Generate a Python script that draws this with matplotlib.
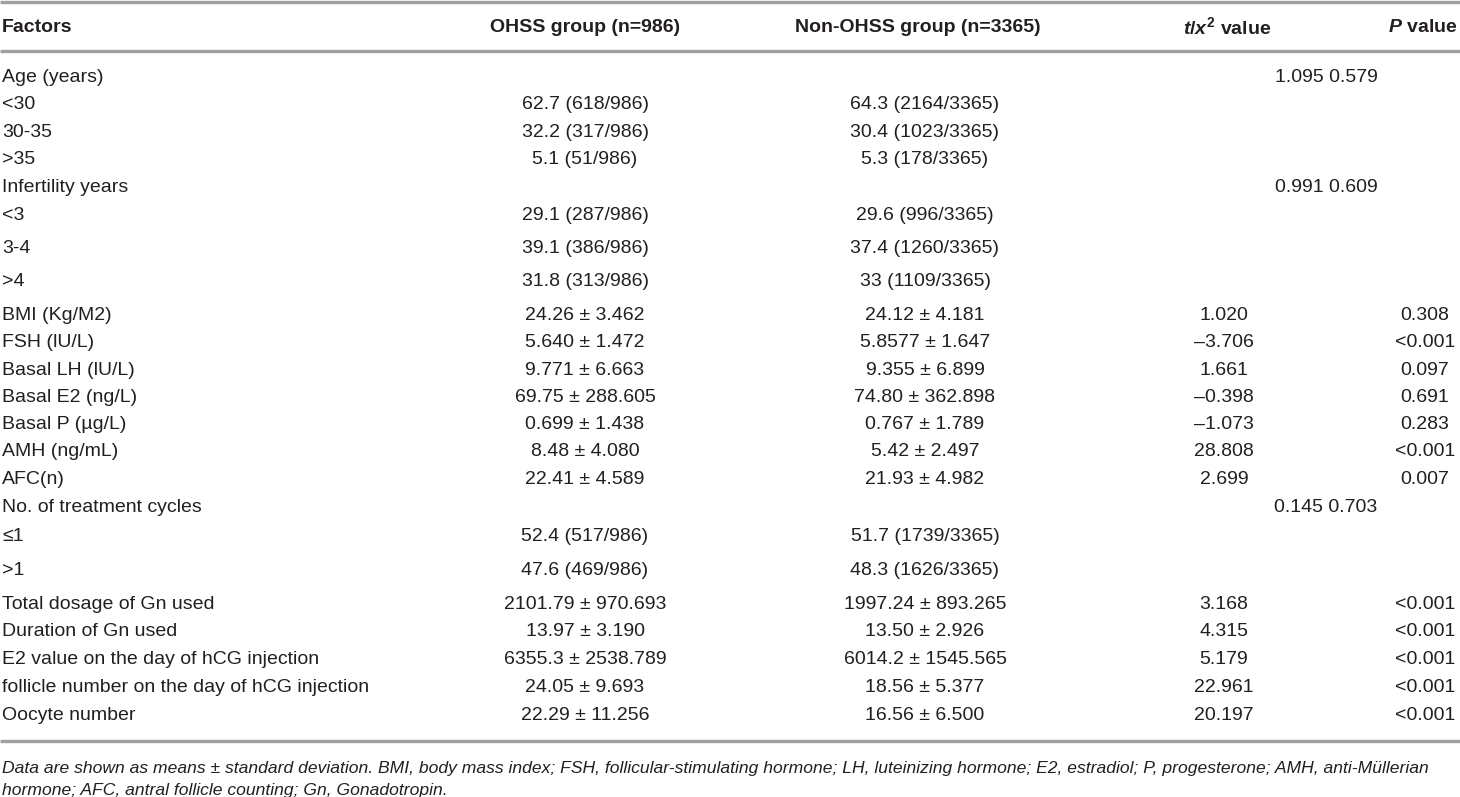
import matplotlib
matplotlib.use('Agg')
import matplotlib.pyplot as plt
import numpy as np

# Table data
factors = [
    'Age (years)', '<30', '30-35', '>35',
    'Infertility years', '<3', '3-4', '>4',
    'BMI (Kg/M2)', 'FSH (lU/L)', 'Basal LH (lU/L)', 'Basal E2 (ng/L)',
    'Basal P (\u00b5g/L)', 'AMH (ng/mL)', 'AFC(n)',
    'No. of treatment cycles', '\u22641', '>1',
    'Total dosage of Gn used', 'Duration of Gn used',
    'E2 value on the day of hCG injection',
    'follicle number on the day of hCG injection', 'Oocyte number'
]
ohss = [
    '', '62.7 (618/986)', '32.2 (317/986)', '5.1 (51/986)',
    '', '29.1 (287/986)', '39.1 (386/986)', '31.8 (313/986)',
    '24.26 \u00b1 3.462', '5.640 \u00b1 1.472', '9.771 \u00b1 6.663', '69.75 \u00b1 288.605',
    '0.699 \u00b1 1.438', '8.48 \u00b1 4.080', '22.41 \u00b1 4.589',
    '', '52.4 (517/986)', '47.6 (469/986)',
    '2101.79 \u00b1 970.693', '13.97 \u00b1 3.190',
    '6355.3 \u00b1 2538.789', '24.05 \u00b1 9.693', '22.29 \u00b1 11.256'
]
non_ohss = [
    '', '64.3 (2164/3365)', '30.4 (1023/3365)', '5.3 (178/3365)',
    '', '29.6 (996/3365)', '37.4 (1260/3365)', '33 (1109/3365)',
    '24.12 \u00b1 4.181', '5.8577 \u00b1 1.647', '9.355 \u00b1 6.899', '74.80 \u00b1 362.898',
    '0.767 \u00b1 1.789', '5.42 \u00b1 2.497', '21.93 \u00b1 4.982',
    '', '51.7 (1739/3365)', '48.3 (1626/3365)',
    '1997.24 \u00b1 893.265', '13.50 \u00b1 2.926',
    '6014.2 \u00b1 1545.565', '18.56 \u00b1 5.377', '16.56 \u00b1 6.500'
]
t_values = [
    '1.095', '', '', '',
    '0.991', '', '', '',
    '1.020', '\u20133.706', '1.661', '\u20130.398',
    '\u20131.073', '28.808', '2.699',
    '0.145', '', '',
    '3.168', '4.315', '5.179', '22.961', '20.197'
]
p_values = [
    '0.579', '', '', '',
    '0.609', '', '', '',
    '0.308', '<0.001', '0.097', '0.691',
    '0.283', '<0.001', '0.007',
    '0.703', '', '',
    '<0.001', '<0.001', '<0.001', '<0.001', '<0.001'
]
group_rows = [0, 4, 15]  # chi-square rows, values printed together

footnote = [
    'Data are shown as means \u00b1 standard deviation. BMI, body mass index; FSH, follicular-stimulating hormone; '
    'LH, luteinizing hormone; E2, estradiol; P, progesterone; AMH, anti-M\u00fcllerian',
    'hormone; AFC, antral follicle counting; Gn, Gonadotropin.'
]

# Layout (pixels)
W, H = 1460, 797
row_gaps = [27.5, 27.5, 27.5, 27.5, 28, 33, 33, 34,
            27.5, 27.5, 27, 27, 27.5, 28, 28, 29, 34, 34,
            27.5, 28, 27.5, 28.5]
row_y = 77 + np.concatenate([[0], np.cumsum(row_gaps)])
col_x = [2, 585, 925, 1224, 1425]
chi_x = 1326
header_y = 27
rules_y = [2, 51, 741]
foot_y = [768, 791]

text_color = '#231f20'
line_color = '#a0a0a0'

plt.rcParams['font.family'] = ['Liberation Sans', 'DejaVu Sans']
plt.rcParams['mathtext.fontset'] = 'custom'
plt.rcParams['mathtext.rm'] = 'Liberation Sans:bold'
plt.rcParams['mathtext.it'] = 'Liberation Sans:italic:bold'
plt.rcParams['mathtext.bf'] = 'Liberation Sans:bold'

fig = plt.figure(figsize=(W / 100, H / 100), dpi=100)
ax = fig.add_axes([0, 0, 1, 1])
ax.set_xlim(0, W)
ax.set_ylim(H, 0)
ax.axis('off')

fs = 14

# Rules
for y in rules_y:
    ax.plot([0, W], [y, y], color=line_color, linewidth=2.4, solid_capstyle='butt')

# Header
hdr = dict(va='center', fontsize=fs, fontweight='bold', color=text_color)
ax.text(col_x[0], header_y, 'Factors', ha='left', **hdr)
ax.text(col_x[1], header_y, 'OHSS group (n=986)', ha='center', **hdr)
ax.text(918, header_y, 'Non-OHSS group (n=3365)', ha='center', **hdr)
ax.text(1227, header_y, r'$t/x^{2}$ value', ha='center', **hdr)
ax.text(W - 2, header_y, r'$P$ value', ha='right', **hdr)

# Body
for i, y in enumerate(row_y):
    ax.text(col_x[0], y, factors[i], ha='left', va='center', fontsize=fs, color=text_color)
    ax.text(col_x[1], y, ohss[i], ha='center', va='center', fontsize=fs, color=text_color)
    ax.text(col_x[2], y, non_ohss[i], ha='center', va='center', fontsize=fs, color=text_color)
    if i in group_rows:
        ax.text(chi_x, y, f'{t_values[i]} {p_values[i]}', ha='center', va='center', fontsize=fs, color=text_color)
    else:
        ax.text(col_x[3], y, t_values[i], ha='center', va='center', fontsize=fs, color=text_color)
        ax.text(col_x[4], y, p_values[i], ha='center', va='center', fontsize=fs, color=text_color)

# Footnote
for k, line in enumerate(footnote):
    ax.text(2, foot_y[k], line, ha='left', va='center', fontsize=12.6, style='italic', color=text_color)

fig.savefig('out.png', dpi=100, facecolor='white')
